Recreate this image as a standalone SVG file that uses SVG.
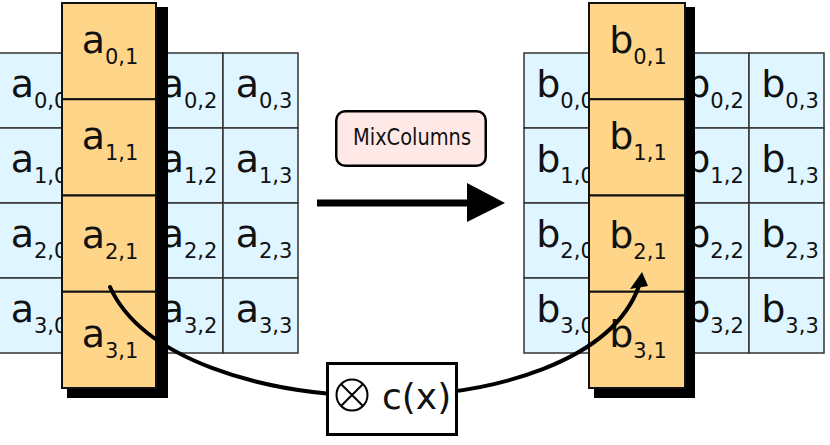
<svg xmlns="http://www.w3.org/2000/svg" width="830" height="445" viewBox="0 0 830 445">
<style>
.bc{fill:#DFF5FF;stroke:#333;stroke-width:1.5}
.oc{fill:#FFD58A;stroke:#111;stroke-width:2}
.sh{fill:#000}
.t{font-family:"DejaVu Sans",Verdana,sans-serif;font-size:38px;fill:#111;text-anchor:middle}
.s{font-size:21px}
.lbl{font-family:"DejaVu Sans Condensed","DejaVu Sans",sans-serif;font-stretch:condensed;font-size:23px;fill:#111;text-anchor:middle}
.cx{font-family:"DejaVu Sans",Verdana,sans-serif;font-size:36px;fill:#111}
</style>
<rect width="830" height="445" fill="#fff"/>

<g id="stateA">
<g id="gridA">
<rect class="bc" x="-2" y="53" width="75" height="75"/><rect class="bc" x="73" y="53" width="75" height="75"/><rect class="bc" x="148" y="53" width="75" height="75"/><rect class="bc" x="223" y="53" width="75" height="75"/>
<rect class="bc" x="-2" y="128" width="75" height="75"/><rect class="bc" x="73" y="128" width="75" height="75"/><rect class="bc" x="148" y="128" width="75" height="75"/><rect class="bc" x="223" y="128" width="75" height="75"/>
<rect class="bc" x="-2" y="203" width="75" height="75"/><rect class="bc" x="73" y="203" width="75" height="75"/><rect class="bc" x="148" y="203" width="75" height="75"/><rect class="bc" x="223" y="203" width="75" height="75"/>
<rect class="bc" x="-2" y="278" width="75" height="75"/><rect class="bc" x="73" y="278" width="75" height="75"/><rect class="bc" x="148" y="278" width="75" height="75"/><rect class="bc" x="223" y="278" width="75" height="75"/>
<text class="t" x="39" y="97">a<tspan class="s" dy="11">0,0</tspan></text>
<text class="t" x="189" y="97">a<tspan class="s" dy="11">0,2</tspan></text>
<text class="t" x="264" y="97">a<tspan class="s" dy="11">0,3</tspan></text>
<text class="t" x="39" y="172">a<tspan class="s" dy="11">1,0</tspan></text>
<text class="t" x="189" y="172">a<tspan class="s" dy="11">1,2</tspan></text>
<text class="t" x="264" y="172">a<tspan class="s" dy="11">1,3</tspan></text>
<text class="t" x="39" y="247">a<tspan class="s" dy="11">2,0</tspan></text>
<text class="t" x="189" y="247">a<tspan class="s" dy="11">2,2</tspan></text>
<text class="t" x="264" y="247">a<tspan class="s" dy="11">2,3</tspan></text>
<text class="t" x="39" y="322">a<tspan class="s" dy="11">3,0</tspan></text>
<text class="t" x="189" y="322">a<tspan class="s" dy="11">3,2</tspan></text>
<text class="t" x="264" y="322">a<tspan class="s" dy="11">3,3</tspan></text>
</g>
<g id="columnA">
<rect class="sh" x="67" y="7" width="101" height="391"/>
<rect class="oc" x="62" y="3" width="94" height="96.25"/>
<rect class="oc" x="62" y="99.25" width="94" height="96.25"/>
<rect class="oc" x="62" y="195.5" width="94" height="96.25"/>
<rect class="oc" x="62" y="291.75" width="94" height="96.25"/>
<text class="t" x="110" y="52.5">a<tspan class="s" dy="11">0,1</tspan></text>
<text class="t" x="110" y="148.5">a<tspan class="s" dy="11">1,1</tspan></text>
<text class="t" x="110" y="248">a<tspan class="s" dy="11">2,1</tspan></text>
<text class="t" x="110" y="347">a<tspan class="s" dy="11">3,1</tspan></text>
</g>
</g>

<g id="stateB">
<g id="gridB">
<rect class="bc" x="524" y="53" width="75" height="75"/><rect class="bc" x="599" y="53" width="75" height="75"/><rect class="bc" x="674" y="53" width="75" height="75"/><rect class="bc" x="749" y="53" width="75" height="75"/>
<rect class="bc" x="524" y="128" width="75" height="75"/><rect class="bc" x="599" y="128" width="75" height="75"/><rect class="bc" x="674" y="128" width="75" height="75"/><rect class="bc" x="749" y="128" width="75" height="75"/>
<rect class="bc" x="524" y="203" width="75" height="75"/><rect class="bc" x="599" y="203" width="75" height="75"/><rect class="bc" x="674" y="203" width="75" height="75"/><rect class="bc" x="749" y="203" width="75" height="75"/>
<rect class="bc" x="524" y="278" width="75" height="75"/><rect class="bc" x="599" y="278" width="75" height="75"/><rect class="bc" x="674" y="278" width="75" height="75"/><rect class="bc" x="749" y="278" width="75" height="75"/>
<text class="t" x="565" y="97">b<tspan class="s" dy="11">0,0</tspan></text>
<text class="t" x="715" y="97">b<tspan class="s" dy="11">0,2</tspan></text>
<text class="t" x="790" y="97">b<tspan class="s" dy="11">0,3</tspan></text>
<text class="t" x="565" y="172">b<tspan class="s" dy="11">1,0</tspan></text>
<text class="t" x="715" y="172">b<tspan class="s" dy="11">1,2</tspan></text>
<text class="t" x="790" y="172">b<tspan class="s" dy="11">1,3</tspan></text>
<text class="t" x="565" y="247">b<tspan class="s" dy="11">2,0</tspan></text>
<text class="t" x="715" y="247">b<tspan class="s" dy="11">2,2</tspan></text>
<text class="t" x="790" y="247">b<tspan class="s" dy="11">2,3</tspan></text>
<text class="t" x="565" y="322">b<tspan class="s" dy="11">3,0</tspan></text>
<text class="t" x="715" y="322">b<tspan class="s" dy="11">3,2</tspan></text>
<text class="t" x="790" y="322">b<tspan class="s" dy="11">3,3</tspan></text>
</g>
<g id="columnB">
<rect class="sh" x="594" y="7" width="101" height="391"/>
<rect class="oc" x="589" y="3" width="96" height="96.25"/>
<rect class="oc" x="589" y="99.25" width="96" height="96.25"/>
<rect class="oc" x="589" y="195.5" width="96" height="96.25"/>
<rect class="oc" x="589" y="291.75" width="96" height="96.25"/>
<text class="t" x="638" y="52.5">b<tspan class="s" dy="11">0,1</tspan></text>
<text class="t" x="638" y="148.5">b<tspan class="s" dy="11">1,1</tspan></text>
<text class="t" x="638" y="248">b<tspan class="s" dy="11">2,1</tspan></text>
<text class="t" x="638" y="347">b<tspan class="s" dy="11">3,1</tspan></text>
</g>
</g>

<g id="connectors">
<line x1="317" y1="203" x2="470" y2="203" stroke="#000" stroke-width="7"/>
<polygon points="467,183 505,203 467,222" fill="#000"/>
<path d="M110,287 C175,430 585,435 639,286" fill="none" stroke="#000" stroke-width="4" stroke-linecap="round"/>
<polygon points="642,272 630,289 648,286" fill="#000"/>
</g>

<g id="mixcolumns">
<rect x="336.25" y="111.25" width="149.5" height="54.5" rx="9" fill="#FFE9E6" stroke="#000" stroke-width="2.5"/>
<text class="lbl" x="412" y="145" textLength="118" lengthAdjust="spacingAndGlyphs">MixColumns</text>
</g>

<g id="cx">
<rect x="327.5" y="363.5" width="129" height="71" fill="#fff" stroke="#000" stroke-width="3"/>
<circle cx="352" cy="395" r="15.5" fill="none" stroke="#000" stroke-width="2"/>
<path d="M341,384 L363,406 M363,384 L341,406" stroke="#000" stroke-width="2"/>
<text class="cx" x="382" y="409">c(x)</text>
</g>
</svg>
